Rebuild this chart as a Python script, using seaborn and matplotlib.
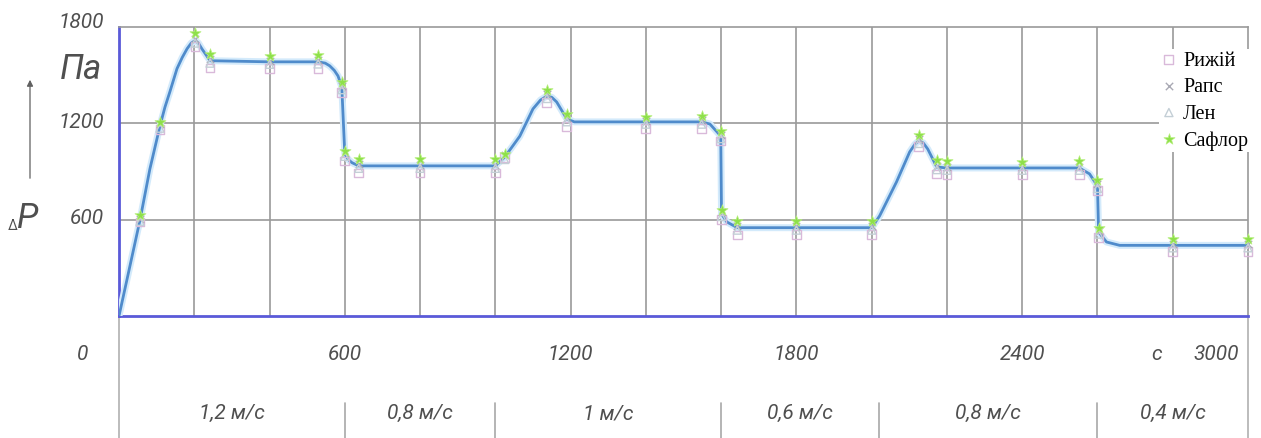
import matplotlib
matplotlib.use("Agg")
import matplotlib.pyplot as plt
import seaborn as sns
import pandas as pd

# measurement times, s
time_s = [56, 109, 202, 242, 400, 529, 592, 600, 637, 800, 1000, 1025, 1137, 1190,
          1400, 1548, 1599, 1601, 1643, 1800, 2000, 2125, 2173, 2200, 2400, 2552,
          2600, 2603, 2800, 3000]

# pressure drop per oil, Pa
ryzhii = [585, 1160, 1680, 1545, 1540, 1540, 1390, 965, 890, 890, 890, 985, 1330, 1180,
          1170, 1170, 1090, 600, 505, 510, 510, 1055, 885, 880, 880, 880, 780, 490, 400, 400]
raps = [605, 1195, 1725, 1600, 1590, 1595, 1435, 1015, 945, 940, 940, 1000, 1380, 1235,
        1215, 1220, 1130, 645, 560, 560, 560, 1100, 935, 930, 930, 930, 820, 530, 450, 450]
lon = [590, 1170, 1700, 1575, 1568, 1570, 1410, 995, 920, 920, 920, 975, 1355, 1210,
       1195, 1195, 1105, 620, 535, 535, 535, 1075, 912, 908, 908, 908, 795, 510, 425, 425]
saflor = [630, 1210, 1760, 1630, 1620, 1625, 1460, 1030, 975, 975, 975, 1010, 1410, 1260,
          1240, 1245, 1150, 660, 590, 590, 590, 1130, 970, 965, 960, 965, 850, 550, 480, 480]

# averaged pressure curve
curve_t = [0, 56, 82, 109, 122, 135, 154, 168, 181, 192, 202, 211, 220, 242, 400, 529, 548,
           560, 572, 582, 592, 600, 609, 619, 637, 1000, 1025, 1065, 1100, 1120, 1137, 1150,
           1163, 1190, 1210, 1548, 1570, 1599, 1601, 1615, 1643, 2000, 2021, 2066, 2101,
           2115, 2125, 2137, 2149, 2173, 2200, 2552, 2579, 2600, 2603, 2624, 2659, 3000]
curve_p = [0, 600, 915, 1185, 1300, 1395, 1540, 1610, 1665, 1700, 1715, 1700, 1665, 1590,
           1583, 1583, 1575, 1558, 1530, 1495, 1427, 1009, 975, 955, 935, 935, 990, 1120,
           1290, 1345, 1370, 1362, 1333, 1227, 1209, 1209, 1196, 1121, 636, 586, 550, 550,
           623, 835, 1022, 1070, 1090, 1078, 1040, 928, 922, 922, 885, 810, 523, 461, 440, 440]

# air velocity stages
speed_bounds = [0, 600, 1000, 1600, 2020, 2600, 3000]
speed_labels = ["1,2 м/с", "0,8 м/с", "1 м/с", "0,6 м/с", "0,8 м/с", "0,4 м/с"]

x_ticks = [0, 600, 1200, 1800, 2400, 3000]
y_ticks = [600, 1200, 1800]

sns.set_theme(style="white")
draft = ["Liberation Sans Narrow", "Roboto", "DejaVu Sans"]
serif = ["Liberation Serif", "DejaVu Serif"]
plt.rcParams["font.family"] = draft

W, H = 1261, 439
fig = plt.figure(figsize=(W / 100, H / 100), dpi=100)
ax = fig.add_axes([119 / W, 1 - 317 / H, (1248 - 119) / W, (317 - 28) / H])

ink = "#4f4f4f"
grid_c = "#9a9a9a"
axis_c = "#5a5ad8"

ax.set_xlim(0, 3000)
ax.set_ylim(0, 1800)
ax.set_xticks(range(200, 3000, 200))
ax.set_yticks([600, 1200])
ax.tick_params(length=0, labelbottom=False, labelleft=False)
ax.grid(True, color=grid_c, lw=1.2)
for side in ("top", "right"):
    ax.spines[side].set_color(grid_c)
    ax.spines[side].set_linewidth(1.2)
for side in ("left", "bottom"):
    ax.spines[side].set_color(axis_c)
    ax.spines[side].set_linewidth(2.0)

# frame lines continuing into the velocity band
ax.axvline(0, ymin=-0.43, ymax=0, color="#b0b0b0", lw=1.2, clip_on=False)
ax.axvline(3000, ymin=-0.43, ymax=0, color="#b0b0b0", lw=1.2, clip_on=False)
for b in speed_bounds[1:-1]:
    ax.axvline(b, ymin=-0.43, ymax=-0.30, color="#a8a8a8", lw=1.2, clip_on=False)

curve = pd.DataFrame({"t": curve_t, "p": curve_p})
sns.lineplot(data=curve, x="t", y="p", ax=ax, color="#d3eafb", lw=5, estimator=None,
             sort=False, zorder=3)
sns.lineplot(data=curve, x="t", y="p", ax=ax, color="#4f8bcb", lw=2.0, estimator=None,
             sort=False, zorder=4)

series = [
    ("Рижій", ryzhii, dict(marker="s", s=40, facecolors="none", edgecolors="#d9b9da", linewidths=1.0)),
    ("Рапс", raps, dict(marker="x", s=28, color="#a9a9b4", linewidths=1.0)),
    ("Лен", lon, dict(marker="^", s=34, facecolors="none", edgecolors="#c4cfd6", linewidths=1.0)),
    ("Сафлор", saflor, dict(marker="*", s=70, color="#8ee04a", edgecolor="#b6ef7c", linewidths=0.5)),
]
for name, vals, kw in series:
    df = pd.DataFrame({"t": time_s, "p": vals})
    sns.scatterplot(data=df, x="t", y="p", ax=ax, label=name, zorder=5, clip_on=False, **kw)

ax.set_xlabel("")
ax.set_ylabel("")

leg = ax.legend(loc="upper right", bbox_to_anchor=(1250 / W, 1 - 50 / H),
                bbox_transform=fig.transFigure, prop={"family": serif, "size": 14.5},
                frameon=True, facecolor="white", edgecolor="none", framealpha=1,
                borderpad=0.1, borderaxespad=0, labelspacing=0.36, handlelength=0.8,
                handletextpad=0.3, fancybox=False)
leg.set_zorder(10)
for t in leg.get_texts():
    t.set_color("black")

tick_font = dict(color=ink, fontsize=15, style="italic", family=draft)

# time axis labels
xt = ax.get_xaxis_transform()
for v in x_ticks:
    off = {0: -36, 3000: -32}.get(v, 0)
    ax.annotate(str(v), xy=(v, -0.13), xycoords=xt, xytext=(off, 0),
                textcoords="offset pixels", ha="center", va="center",
                annotation_clip=False, **tick_font)
ax.annotate("с", xy=(3000, -0.13), xycoords=xt, xytext=(-91, 0),
            textcoords="offset pixels", ha="center", va="center",
            annotation_clip=False, **tick_font)

# pressure axis labels
yt = ax.get_yaxis_transform()
for v in y_ticks:
    dy = 5 if v == 1800 else 2
    ax.annotate(str(v), xy=(0, v), xycoords=yt, xytext=(-15, dy),
                textcoords="offset pixels", ha="right", va="center",
                annotation_clip=False, **tick_font)

# velocity band
for lo, hi, lab in zip(speed_bounds[:-1], speed_bounds[1:], speed_labels):
    ax.text((lo + hi) / 2, -0.335, lab, transform=xt, ha="center", va="center",
            clip_on=False, **tick_font)

fig.text(81 / W, 1 - 69 / H, "Па", ha="center", va="center", color=ink,
         fontsize=25, style="italic", family=draft)
fig.text(28 / W, 1 - 218 / H, "P", ha="center", va="center", color=ink,
         fontsize=25, style="italic", family=draft)
fig.text(13 / W, 1 - 226 / H, "Δ", ha="center", va="center", color=ink,
         fontsize=10, family=draft)
fig.add_artist(matplotlib.patches.FancyArrowPatch(
    (30 / W, 1 - 182 / H), (30 / W, 1 - 78 / H), transform=fig.transFigure,
    arrowstyle="-|>", mutation_scale=9, color="#606060", lw=0.9))

fig.savefig("out.png", dpi=100)
